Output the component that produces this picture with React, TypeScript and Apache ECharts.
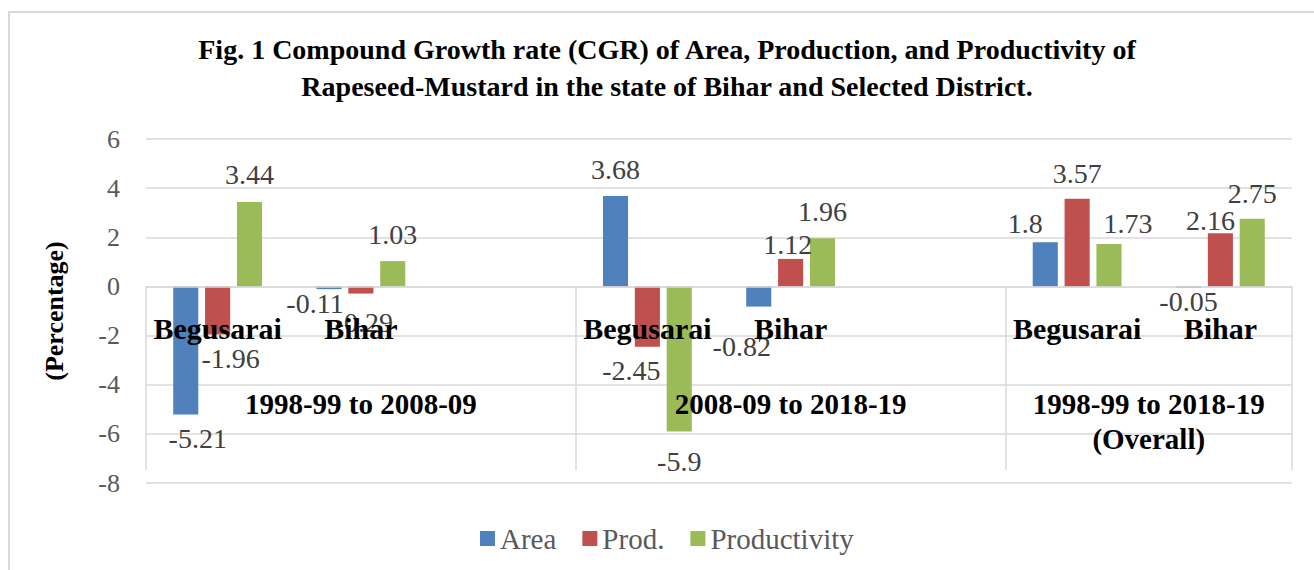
import React, { useEffect, useRef } from 'react';
import * as echarts from 'echarts';

// ---- data ----
const periods = ['1998-99 to 2008-09', '2008-09 to 2018-19', '1998-99 to 2018-19\n(Overall)'];
const districts = ['Begusarai', 'Bihar'];
const seriesNames = ['Area', 'Prod.', 'Productivity'];
// values ordered period by period, district within each period
const area = [-5.21, -0.11, 3.68, -0.82, 1.8, -0.05];
const prod = [-1.96, -0.29, -2.45, 1.12, 3.57, 2.16];
const productivity = [3.44, 1.03, -5.9, 1.96, 1.73, 2.75];
const yMin = -8;
const yMax = 6;
const yInterval = 2;

// ---- styles / layout ----
const colors = ['#4f81bd', '#c0504d', '#9bbb59'];
const FONT = '"Liberation Serif", "Times New Roman", serif';
const GRID_COLOR = '#d9d9d9';
const GRID = { left: 146, right: 22, top: 139, bottom: 87 };
const CHART_H = 570;
// label nudges (pixels) mimicking the reference's adjusted label placement
const labelShift = [
  [[12, 0], [-14, -10], [0, 0], [-17, 16], [-20, 8], [0, -10]],
  [[13, 0], [3, 5], [-16, 0], [-3, 13], [0, 2], [-10, 14]],
  [[0, 0], [0, 0], [0, 6], [0, 0], [19, 7], [0, 2]],
];

// ---- build multi-level category layout ----
const categories: string[] = [];
const slotOf: number[] = [];
const groupBounds: number[] = [0];
const groupCenters: number[] = [];
periods.forEach((_p, pi) => {
  const start = categories.length;
  districts.forEach((d) => {
    slotOf.push(categories.length);
    categories.push(d);
  });
  if (pi < periods.length - 1) categories.push('');
  groupBounds.push(categories.length);
  groupCenters.push((start + categories.length) / 2);
});

function buildSeriesData(values: number[], si: number) {
  const arr: any[] = categories.map(() => '-');
  values.forEach((v, i) => {
    arr[slotOf[i]] = {
      value: v,
      label: {
        position: v >= 0 ? 'top' : 'bottom',
        distance: v >= 0 ? 13 : 10,
        offset: labelShift[si][i],
      },
    };
  });
  return arr;
}

export default function App() {
  const ref = useRef<HTMLDivElement>(null);
  useEffect(() => {
    document.body.style.margin = '0';
    if (!ref.current) return;
    const chart = echarts.init(ref.current, undefined, { renderer: 'svg' });
    const allValues = [area, prod, productivity];
    const gridH = CHART_H - GRID.top - GRID.bottom;
    // distance from grid bottom up to the value 0 (where the category axis sits)
    const zeroOffset = (gridH * (0 - yMin)) / (yMax - yMin);
    chart.setOption({
      animation: false,
      backgroundColor: '#ffffff',
      color: colors,
      title: {
        text:
          'Fig. 1 Compound Growth rate (CGR) of Area, Production, and Productivity of\nRapeseed-Mustard in the state of Bihar and Selected District.',
        left: 667,
        top: 31,
        padding: 0,
        textAlign: 'center',
        textStyle: {
          fontFamily: FONT,
          fontWeight: 'bold',
          fontSize: 28,
          lineHeight: 37,
          color: '#000000',
        },
      },
      graphic: [
        {
          type: 'rect',
          shape: { x: 9, y: 12, width: 1340, height: 620 },
          style: { fill: 'none', stroke: GRID_COLOR, lineWidth: 2 },
          silent: true,
        },
      ],
      legend: {
        data: seriesNames,
        left: 475,
        top: 519,
        icon: 'rect',
        itemWidth: 15,
        itemHeight: 15,
        itemGap: 26,
        textStyle: { fontFamily: FONT, fontSize: 29, color: '#595959' },
      },
      grid: GRID,
      xAxis: [
        {
          type: 'category',
          data: categories,
          z: 5,
          position: 'bottom',
          offset: -zeroOffset,
          axisLine: { onZero: false, lineStyle: { color: GRID_COLOR, width: 1.5 } },
          axisTick: { show: false },
          axisLabel: {
            interval: 0,
            margin: 27,
            fontFamily: FONT,
            fontWeight: 'bold',
            fontSize: 30,
            color: '#000000',
          },
          splitLine: { show: false },
        },
        {
          type: 'value',
          min: 0,
          max: categories.length,
          position: 'bottom',
          offset: -13,
          z: 5,
          axisLine: { show: false, onZero: false },
          splitLine: { show: false },
          axisTick: {
            show: true,
            inside: true,
            length: 183,
            customValues: groupBounds,
            lineStyle: { color: GRID_COLOR, width: 1.5 },
          },
          axisLabel: {
            customValues: groupCenters,
            formatter: (v: number) => {
              const i = groupCenters.indexOf(v);
              return i >= 0 ? periods[i] : '';
            },
            margin: -84,
            verticalAlign: 'top',
            fontFamily: FONT,
            fontWeight: 'bold',
            fontSize: 29,
            lineHeight: 35,
            color: '#000000',
          },
        },
      ],
      yAxis: {
        type: 'value',
        min: yMin,
        max: yMax,
        interval: yInterval,
        name: '(Percentage)',
        nameLocation: 'middle',
        nameGap: 79,
        nameTextStyle: {
          fontFamily: FONT,
          fontWeight: 'bold',
          fontSize: 26,
          color: '#000000',
        },
        axisLine: { show: false, onZero: false },
        axisTick: { show: false },
        axisLabel: {
          margin: 26,
          fontFamily: FONT,
          fontSize: 26,
          color: '#595959',
        },
        splitLine: { lineStyle: { color: GRID_COLOR, width: 1.5 } },
      },
      series: seriesNames.map((name, si) => ({
        name,
        type: 'bar',
        xAxisIndex: 0,
        barGap: '27%',
        barCategoryGap: '38%',
        itemStyle: { color: colors[si] },
        label: {
          show: true,
          fontFamily: FONT,
          fontSize: 28,
          lineHeight: 28,
          color: '#404040',
        },
        data: buildSeriesData(allValues[si], si),
      })),
    });
    return () => chart.dispose();
  }, []);
  return <div ref={ref} style={{ width: 1314, height: 570 }} />;
}
